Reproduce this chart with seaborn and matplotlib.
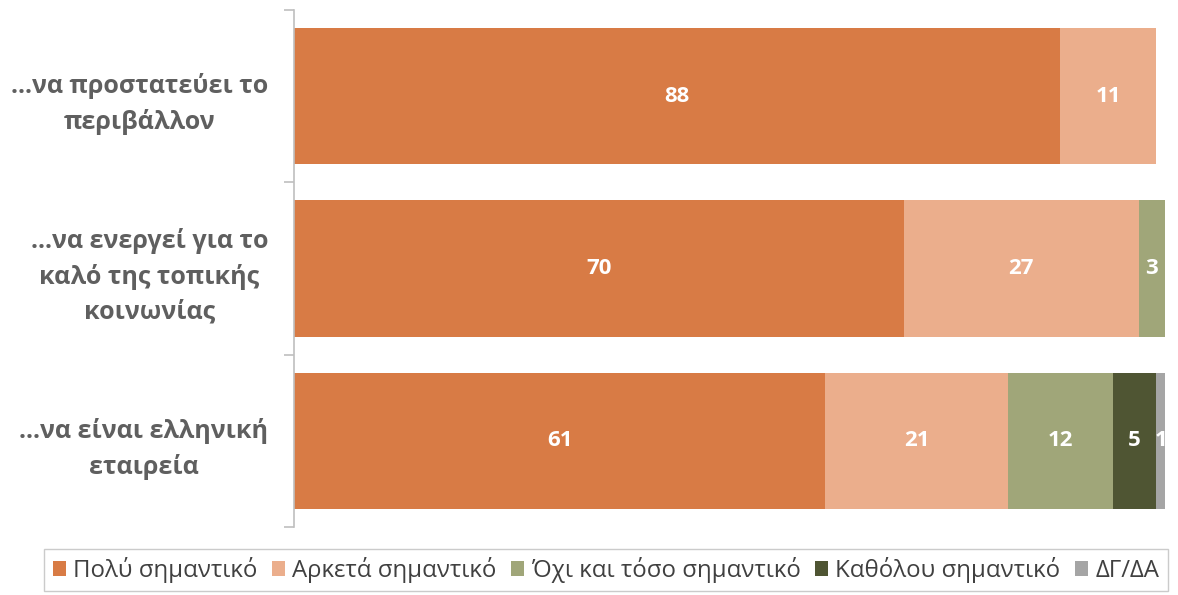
import matplotlib
matplotlib.use('Agg')
import matplotlib.pyplot as plt
import numpy as np
import pandas as pd
import seaborn as sns
from matplotlib.patches import Patch

categories = ['...να προστατεύει το\nπεριβάλλον',
              '...να ενεργεί για το\nκαλό της τοπικής\nκοινωνίας',
              '...να είναι ελληνική\nεταιρεία']
series = ['Πολύ σημαντικό', 'Αρκετά σημαντικό', 'Όχι και τόσο σημαντικό',
          'Καθόλου σημαντικό', 'ΔΓ/ΔΑ']
poly = [88, 70, 61]
arketa = [11, 27, 21]
oxi = [0, 3, 12]
katholou = [0, 0, 5]
dgda = [0, 0, 1]
colors = ['#D87B45', '#EBAE8C', '#A0A679', '#4F5533', '#A5A5A5']

sns.set_style('white')
plt.rcParams['font.family'] = ['Open Sans', 'DejaVu Sans']

values = np.array([poly, arketa, oxi, katholou, dgda], dtype=float)
cum = values.cumsum(axis=0)

fig = plt.figure(figsize=(11.78, 5.95), dpi=100)
ax = fig.add_axes([294 / 1178, 1 - 527 / 595, (1165 - 294) / 1178, 517 / 595])

# draw cumulative totals from the last series back to the first
for i in range(len(series) - 1, -1, -1):
    df = pd.DataFrame({'cat': categories, 'val': cum[i]})
    sns.barplot(data=df, x='val', y='cat', color=colors[i], width=0.79,
                saturation=1, ax=ax, orient='h', edgecolor='none', linewidth=0)

for i in range(len(series)):
    for j in range(len(categories)):
        v = values[i, j]
        if v <= 0:
            continue
        ax.text(cum[i, j] - v / 2, j, f'{int(v)}', ha='center', va='center',
                color='white', fontsize=16, fontweight='bold')

ax.set_xlim(0, 100)
ax.set_ylim(2.5, -0.5)
ax.set_xlabel('')
ax.set_ylabel('')
ax.set_xticks([])
for s in ['top', 'right', 'bottom']:
    ax.spines[s].set_visible(False)
ax.spines['left'].set_color('#BFBFBF')
ax.spines['left'].set_linewidth(1.2)
ax.set_yticks(range(len(categories)))
ax.set_yticklabels(categories, fontsize=18, fontweight='bold', color='#5F5F5F',
                   multialignment='center', linespacing=1.5)
ax.tick_params(axis='y', which='major', left=False, pad=15)
ax.set_yticks([-0.5, 0.5, 1.5, 2.5], minor=True)
ax.tick_params(axis='y', which='minor', left=True, length=7, color='#BFBFBF', width=1.2)

handles = [Patch(facecolor=c, edgecolor='none') for c in colors]
leg = fig.legend(handles, series, loc='center', bbox_to_anchor=(606 / 1178, 1 - 570 / 595),
                 ncol=5, fontsize=17.3, frameon=True, fancybox=False,
                 handlelength=0.55, handleheight=0.55, handletextpad=0.3,
                 columnspacing=0.6, borderpad=0.35)
leg.get_frame().set_edgecolor('#BFBFBF')
for t in leg.get_texts():
    t.set_color('#404040')

fig.savefig('out.png', dpi=100)
